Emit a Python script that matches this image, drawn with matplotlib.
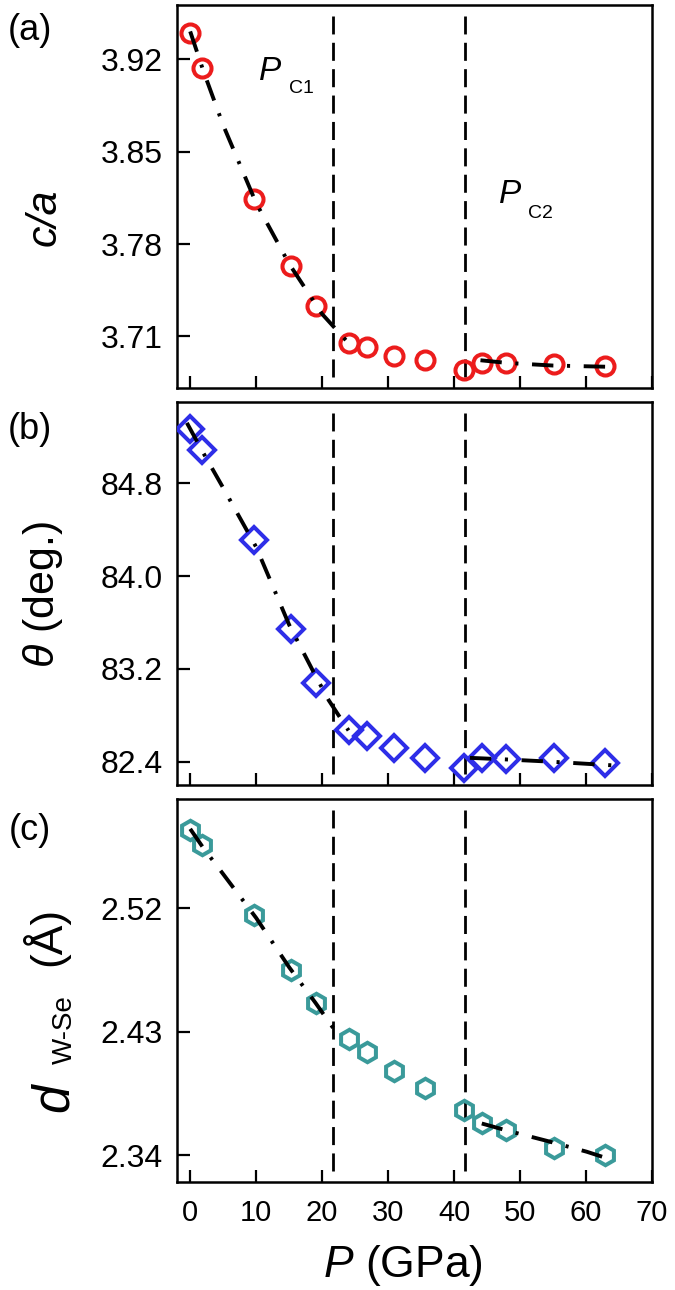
import numpy as np
import matplotlib
matplotlib.use('Agg')
import matplotlib.pyplot as plt

plt.rcParams['font.family'] = ['Liberation Sans', 'DejaVu Sans']
plt.rcParams['mathtext.fontset'] = 'custom'
plt.rcParams['mathtext.rm'] = 'Liberation Sans'
plt.rcParams['mathtext.it'] = 'Liberation Sans:italic'
plt.rcParams['mathtext.bf'] = 'Liberation Sans:bold'

# pressure (GPa)
P = [0, 1.8, 9.6, 15.3, 19.1, 24.0, 26.8, 30.9, 35.6, 41.5, 44.2, 47.9, 55.1, 62.8]

# (a) c/a ratio
ca = [3.940, 3.913, 3.814, 3.763, 3.733, 3.705, 3.702, 3.695, 3.692, 3.685,
      3.690, 3.690, 3.689, 3.688]
ca_fit1_p = [0, 2, 5, 10, 15, 20, 22, 24]
ca_fit1 = [3.941, 3.911, 3.870, 3.811, 3.765, 3.727, 3.716, 3.705]
ca_fit2_p = [44, 48, 55, 64]
ca_fit2 = [3.692, 3.690, 3.688, 3.687]

# (b) theta (deg.)
theta = [85.27, 85.09, 84.31, 83.54, 83.08, 82.67, 82.62, 82.52, 82.43, 82.35,
         82.43, 82.42, 82.43, 82.39]
th_fit1_p = [-0.5, 2, 5, 10, 15, 19, 21, 24]
th_fit1 = [85.32, 85.06, 84.76, 84.25, 83.58, 83.14, 82.93, 82.67]
th_fit2_p = [42.4, 48, 55, 65]
th_fit2 = [82.434, 82.42, 82.40, 82.366]

# (c) W-Se bond length (A)
dwse = [2.577, 2.566, 2.515, 2.475, 2.451, 2.425, 2.415, 2.401, 2.389, 2.373,
        2.363, 2.358, 2.345, 2.340]
d_fit1_p = [0, 2, 5, 10, 15, 19, 22.5]
d_fit1 = [2.578, 2.564, 2.545, 2.513, 2.477, 2.451, 2.427]
d_fit2_p = [44.2, 48.2, 54, 60.1, 64.2]
d_fit2 = [2.363, 2.3576, 2.3504, 2.3424, 2.336]

Pc1, Pc2 = 21.7, 41.7

W, H = 675, 1290
fig = plt.figure(figsize=(W / 100, H / 100), dpi=100)


def px(x, y):
    # pixel position (from top-left) -> figure fraction
    return x / W, 1 - y / H


def vtext(x, y, s, size, **kw):
    # rotated text, anchored at the start of its baseline
    fig.text(*px(x, y), s, rotation=90, rotation_mode='anchor', ha='left',
             va='baseline', fontsize=size, **kw)


boxes = [(5, 388), (402, 785), (799, 1182)]
axes = []
for top, bot in boxes:
    ax = fig.add_axes([177 / W, 1 - bot / H, 475 / W, (bot - top) / H])
    axes.append(ax)

panels = [
    (ca, ca_fit1_p, ca_fit1, ca_fit2_p, ca_fit2, 'o', '#ec1c1c', 13, (3.671, 3.961),
     [3.71, 3.78, 3.85, 3.92], '{:.2f}'),
    (theta, th_fit1_p, th_fit1, th_fit2_p, th_fit2, 'D', '#2e2ee8', 13, (82.2, 85.5),
     [82.4, 83.2, 84.0, 84.8], '{:.1f}'),
    (dwse, d_fit1_p, d_fit1, d_fit2_p, d_fit2, 'h', '#3a9a9a', 14, (2.3203, 2.5998),
     [2.34, 2.43, 2.52], '{:.2f}'),
]

fit_dash = (5.5, 3.5, 0.8, 3.5)
for ax, (y, f1p, f1, f2p, f2, mk, col, ms, ylim, yt, fmt) in zip(axes, panels):
    ax.axvline(Pc1, ymin=0.03, ymax=0.97, color='k', lw=2, dashes=(6.5, 3))
    ax.axvline(Pc2, ymin=0.03, ymax=0.97, color='k', lw=2, dashes=(6.5, 3))
    ax.plot(P, y, ls='none', marker=mk, ms=ms, mfc='none', mec=col, mew=2.9, zorder=3)
    ax.plot(f1p, f1, color='k', lw=2.8, dashes=fit_dash, zorder=4)
    ax.plot(f2p, f2, color='k', lw=2.8, dashes=fit_dash, zorder=4)
    ax.set_xlim(-2, 70)
    ax.set_ylim(*ylim)
    ax.set_xticks(np.arange(0, 71, 10))
    ax.set_yticks(yt)
    ax.set_yticklabels([fmt.format(v) for v in yt])
    ax.tick_params(direction='in', length=9, width=1.6, labelsize=23, pad=10,
                   top=False, right=False)
    ax.tick_params(axis='x', labelsize=21, pad=12)
    for s in ax.spines.values():
        s.set_linewidth(1.8)

axes[0].tick_params(axis='x', labelbottom=False)
axes[1].tick_params(axis='x', labelbottom=False)

# critical pressure labels
fig.text(*px(259, 80), 'P', style='italic', fontsize=24, va='baseline')
fig.text(*px(289, 93), 'C1', fontsize=14, va='baseline')
fig.text(*px(499, 203), 'P', style='italic', fontsize=24, va='baseline')
fig.text(*px(528, 218), 'C2', fontsize=14, va='baseline')

# axis labels
vtext(56, 246, 'c/a', 31, style='italic')
vtext(54, 668, r'$\theta$ (deg.)', 31)
vtext(68, 1112, 'd', 37, style='italic')
vtext(72, 1064, 'W-Se', 20)
vtext(60, 966, '(Å)', 32)
fig.text(*px(323, 1277), r'$P$ (GPa)', ha='left', va='baseline', fontsize=32)

# panel letters
for lab, yc in [('(a)', 31), ('(b)', 430), ('(c)', 830)]:
    fig.text(*px(30, yc), lab, ha='center', va='center', fontsize=26)

fig.savefig('out.png', dpi=100)
